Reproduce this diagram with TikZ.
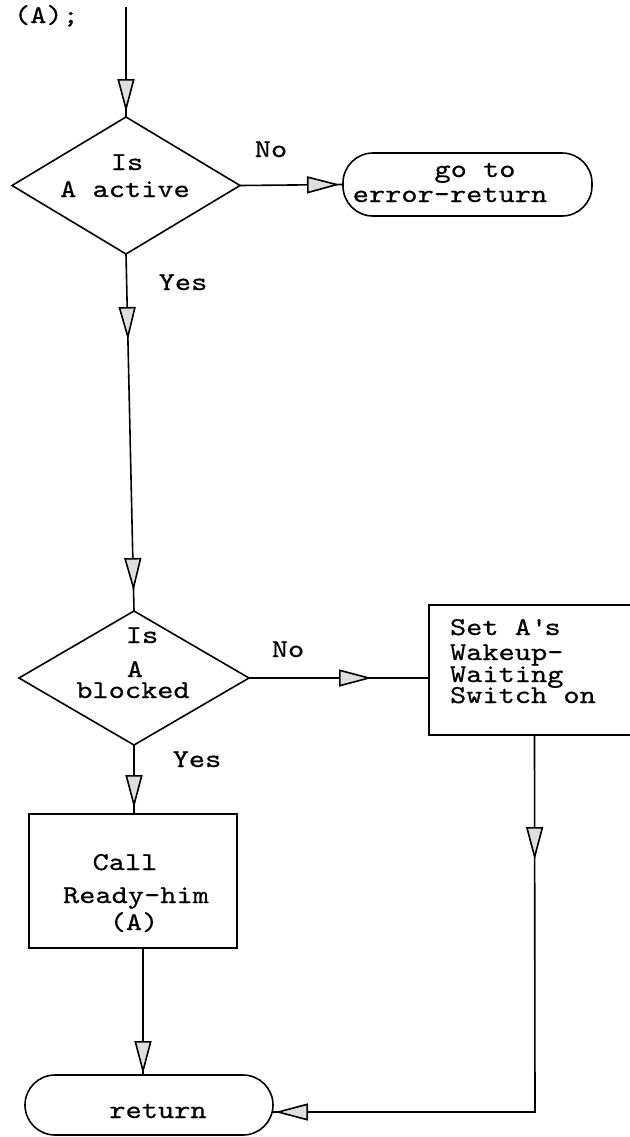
\documentclass[tikz,border=0pt]{standalone}
\usepackage{fontspec}
\newfontfamily\tw{lmmono10-regular.otf}[FakeStretch=1.2,FakeBold=0.6]
\usetikzlibrary{shapes.geometric,arrows.meta,decorations.markings}
\tikzset{
  tri/.tip={Triangle[length=16.5pt,width=8.5pt,fill=gray!25,line width=0.8pt]},
  tipat/.style={postaction={decorate,decoration={markings,mark=at position #1 with {\arrow{tri}}}}},
}
\begin{document}
\begin{tikzpicture}[x=0.5pt,y=-0.5pt,
  every node/.style={inner sep=0pt, outer sep=0pt},
  lbl/.style={font=\tw\fontsize{12.86pt}{11pt}\selectfont, anchor=base},
  ln/.style={line width=0.8pt},
  dia/.style={draw, ln, diamond, minimum width=114pt, minimum height=68.5pt},
  boxr/.style={draw, ln, rectangle},
  term/.style={draw, ln, rectangle, rounded corners=15pt},
]
\useasboundingbox (0,0) rectangle (630,1137);
\clip (0,0) rectangle (630,1137);

% shapes
\coordinate (start) at (126,7);
\node[dia] (d1) at (126,185.5) {};
\node[term, minimum width=124.5pt, minimum height=31.5pt] (err) at (467.5,184.5) {};
\node[dia, minimum width=115pt, minimum height=67pt] (d2) at (134,678) {};
\node[boxr, minimum width=105.5pt, minimum height=65pt] (set) at (534.5,670) {};
\node[boxr, minimum width=104pt, minimum height=67pt] (call) at (133,881) {};
\node[term, minimum width=124pt, minimum height=30pt] (ret) at (149,1105) {};
\coordinate (corner) at (535,1112);

% texts
\node[lbl, anchor=base west] (head) at (14,23) {(A);};
\node[lbl] (d1a) at (127,170) {Is};
\node[lbl] (d1b) at (125,197) {A active};
\node[lbl] (no1) at (271,157) {No};
\node[lbl] (err1) at (475,177) {go to};
\node[lbl] (err2) at (450,202) {error-return};
\node[lbl] (yes1) at (183,290) {Yes};
\node[lbl] (d2a) at (142,643) {Is};
\node[lbl] (d2b) at (135,677) {A};
\node[lbl] (d2c) at (133,698) {blocked};
\node[lbl] (no2) at (288,657) {No};
\node[lbl] (yes2) at (197,767) {Yes};
\node[lbl, anchor=base west] (s1) at (450,635) {Set A\textquotesingle s};
\node[lbl, anchor=base west] (s2) at (450,660) {Wakeup-};
\node[lbl, anchor=base west] (s3) at (450,682) {Waiting};
\node[lbl, anchor=base west] (s4) at (450,703) {Switch on};
\node[lbl] (c1) at (125,870) {Call};
\node[lbl] (c2) at (136,903) {Ready-him};
\node[lbl] (c3) at (134,930) {(A)};
\node[lbl] (r1) at (158,1118) {return};

% connectors
\draw[ln, tipat=-2.5pt] (start) -- (d1.north);
\draw[ln, tipat=-1.5pt] (d1.east) -- (err.west);
\draw[ln, tipat=43pt, tipat=-10pt] (d1.south) -- (d2.north);
\draw[ln, tipat=61.5pt] (d2.east) -- (d2.east -| set.west);
\draw[ln, tipat=-3pt] (d2.south) -- (d2.south |- call.north);
\draw[ln, tipat=-0.5pt] ([xshift=5pt]call.south) -- ([xshift=5pt]call.south |- ret.north);
\draw[ln, tipat=62.5pt, tipat=-1pt] (set.south) -- (corner) -- (ret.east |- corner);
\end{tikzpicture}
\end{document}
